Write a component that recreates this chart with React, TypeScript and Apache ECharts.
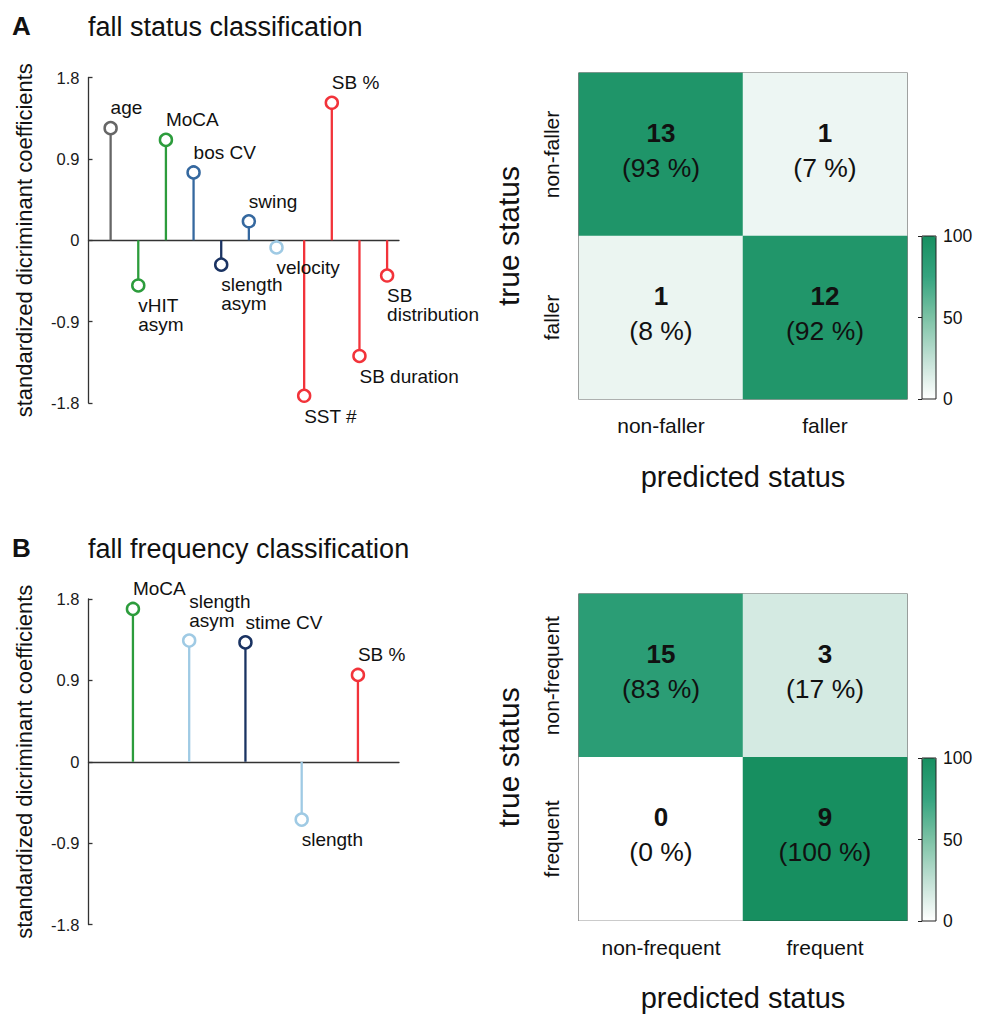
import React, { useEffect, useRef } from "react";
import * as echarts from "echarts";

// ---------- data ----------
const stemNamesA = ["age", "vHIT\nasym", "MoCA", "bos CV", "slength\nasym", "swing", "velocity", "SST #", "SB %", "SB duration", "SB\ndistribution"];
const stemValuesA = [1.24, -0.5, 1.11, 0.75, -0.27, 0.21, -0.08, -1.72, 1.52, -1.28, -0.39];
const stemGroupsA = ["gray", "green", "green", "blue", "navy", "blue", "light", "red", "red", "red", "red"];

const stemNamesB = ["MoCA", "slength\nasym", "stime CV", "slength", "SB %"];
const stemValuesB = [1.69, 1.34, 1.32, -0.64, 0.96];
const stemGroupsB = ["green", "light", "navy", "light", "red"];

const yTicks = [-1.8, -0.9, 0, 0.9, 1.8];

const classesA = ["non-faller", "faller"];
const countsA = [
  [13, 1],
  [1, 12],
];
const classesB = ["non-frequent", "frequent"];
const countsB = [
  [15, 3],
  [0, 9],
];
const colorbarTicks = [0, 50, 100];

const titleA = "fall status classification";
const titleB = "fall frequency classification";
const yNameStem = "standardized dicriminant coefficients";
const xNameHeat = "predicted status";
const yNameHeat = "true status";

// ---------- styles ----------
const groupColor: Record<string, string> = {
  gray: "#666666",
  green: "#2c9c3c",
  blue: "#35689f",
  navy: "#1a3362",
  light: "#9fcae4",
  red: "#f2333a",
};
const FONT = "'Liberation Sans', Arial, Helvetica, sans-serif";
const heatColors = ["#ffffff", "#c0e0d4", "#7cc2a5", "#35a47f", "#178f60"];

function heatData(counts: number[][]) {
  const out: any[] = [];
  counts.forEach((row, r) => {
    const total = row.reduce((a, b) => a + b, 0);
    row.forEach((c, col) => {
      const pct = Math.round((c / total) * 100);
      out.push([col, r, pct, c]);
    });
  });
  return out;
}

function stemSeries(values: number[], names: string[], groups: string[], axisIdx: number) {
  const pts = values.map((v, i) => [i + 1, v]);
  return [
    {
      type: "custom",
      xAxisIndex: axisIdx,
      yAxisIndex: axisIdx,
      data: pts,
      z: 2,
      renderItem: (params: any, api: any) => {
        const x = api.value(0);
        const v = api.value(1);
        const p0 = api.coord([x, 0]);
        const p1 = api.coord([x, v]);
        return {
          type: "line",
          shape: { x1: p0[0], y1: p0[1], x2: p1[0], y2: p1[1] },
          style: { stroke: groupColor[groups[params.dataIndex]], lineWidth: 2.3 },
        };
      },
    },
    {
      type: "scatter",
      xAxisIndex: axisIdx,
      yAxisIndex: axisIdx,
      z: 3,
      symbol: "circle",
      symbolSize: 12,
      itemStyle: { opacity: 1 },
      emphasis: { disabled: true },
      data: pts.map((p, i) => ({
        value: p,
        name: names[i],
        itemStyle: { color: "#ffffff", borderColor: groupColor[groups[i]], borderWidth: 2.5, opacity: 1 },
        label: {
          show: true,
          position: p[1] >= 0 ? "top" : "bottom",
          align: "left",
          distance: 3.5,
          formatter: names[i],
          fontSize: 19,
          lineHeight: 19,
          color: "#111",
          fontFamily: FONT,
        },
      })),
    },
  ];
}

function stemAxes(gridIndex: number, min: number, max: number) {
  return {
    x: {
      type: "value",
      gridIndex,
      min,
      max,
      axisLine: { show: true, onZero: true, lineStyle: { color: "#333", width: 1.3 } },
      axisTick: { show: false },
      axisLabel: { show: false },
      splitLine: { show: false },
    },
    y: {
      type: "value",
      gridIndex,
      min: yTicks[0],
      max: yTicks[yTicks.length - 1],
      interval: yTicks[1] - yTicks[0],
      name: yNameStem,
      nameLocation: "middle",
      nameGap: 53,
      nameTextStyle: { fontSize: 22, color: "#111", fontFamily: FONT },
      axisLine: { show: true, lineStyle: { color: "#333", width: 1.3 } },
      axisTick: { show: true, inside: true, length: 4, lineStyle: { color: "#333", width: 1.3 } },
      axisLabel: { fontSize: 16.5, color: "#1a1a1a", margin: 9, fontFamily: FONT },
      splitLine: { show: false },
    },
  };
}

function heatAxes(gridIndex: number, classes: string[]) {
  return {
    x: {
      type: "category",
      gridIndex,
      data: classes,
      name: xNameHeat,
      nameLocation: "middle",
      nameGap: 63,
      nameTextStyle: { fontSize: 29, color: "#111", fontFamily: FONT },
      axisLine: { show: false },
      axisTick: { show: false },
      axisLabel: { fontSize: 21, color: "#111", margin: 16, fontFamily: FONT },
      splitLine: { show: false },
    },
    y: {
      type: "category",
      gridIndex,
      data: classes,
      inverse: true,
      name: yNameHeat,
      nameLocation: "middle",
      nameGap: 56,
      nameTextStyle: { fontSize: 30, color: "#111", fontFamily: FONT },
      axisLine: { show: false },
      axisTick: { show: false },
      axisLabel: { rotate: 90, fontSize: 21, color: "#111", margin: 17, fontFamily: FONT },
      splitLine: { show: false },
    },
  };
}

function cbarAxes(gridIndex: number) {
  return {
    x: { type: "value", gridIndex, show: false, min: 0, max: 1 },
    y: {
      type: "value",
      gridIndex,
      position: "right",
      min: colorbarTicks[0],
      max: colorbarTicks[colorbarTicks.length - 1],
      interval: colorbarTicks[1] - colorbarTicks[0],
      z: 6,
      axisLine: { show: false },
      axisTick: { show: true, inside: true, length: 4, lineStyle: { color: "#222", width: 1 } },
      axisLabel: { fontSize: 17.5, color: "#111", margin: 7, fontFamily: FONT },
      splitLine: { show: false },
    },
  };
}

function heatSeries(counts: number[][], axisIdx: number) {
  return {
    type: "heatmap",
    xAxisIndex: axisIdx,
    yAxisIndex: axisIdx,
    data: heatData(counts),
    label: {
      show: true,
      offset: [0, -4],
      formatter: (p: any) => `{n|${p.data[3]}}\n{p|(${p.data[2]} %)}`,
      rich: {
        n: { fontSize: 26, fontWeight: "bold", lineHeight: 35, color: "#111", fontFamily: FONT },
        p: { fontSize: 26.5, lineHeight: 35, color: "#111", fontFamily: FONT },
      },
    },
    itemStyle: { borderWidth: 0 },
    emphasis: { disabled: true },
  };
}

export default function App() {
  const ref = useRef<HTMLDivElement>(null);
  useEffect(() => {
    if (!ref.current) return;
    const chart = echarts.init(ref.current, undefined, { renderer: "svg" });
    const sA = stemAxes(0, 0.2, 11.43);
    const hA = heatAxes(1, classesA);
    const cA = cbarAxes(2);
    const sB = stemAxes(3, 0.21, 5.73);
    const hB = heatAxes(4, classesB);
    const cB = cbarAxes(5);
    const gridBorder = { show: true, borderColor: "#333", borderWidth: 1.2, backgroundColor: "transparent" };
    const titleBold = { fontSize: 26, fontWeight: "bold", color: "#111", fontFamily: FONT };
    const titleNorm = { fontSize: 27, fontWeight: "normal", color: "#111", fontFamily: FONT };
    const option: any = {
      animation: false,
      backgroundColor: "#ffffff",
      textStyle: { fontFamily: FONT },
      title: [
        { text: "A", left: 12, top: 13, padding: 0, textStyle: titleBold },
        { text: titleA, left: 88, top: 13, padding: 0, textStyle: titleNorm },
        { text: "B", left: 12, top: 535, padding: 0, textStyle: titleBold },
        { text: titleB, left: 88, top: 535, padding: 0, textStyle: titleNorm },
      ],
      grid: [
        { left: 88.5, top: 77.5, width: 310.5, height: 325.5 },
        { left: 579, top: 73, width: 328, height: 326, ...gridBorder },
        { left: 922, top: 236, width: 14, height: 163, ...gridBorder, borderColor: "#222", borderWidth: 1, z: 5 },
        { left: 88.5, top: 599, width: 310.5, height: 325.5 },
        { left: 579, top: 594, width: 328, height: 326.5, ...gridBorder },
        { left: 922, top: 758, width: 14, height: 163, ...gridBorder, borderColor: "#222", borderWidth: 1, z: 5 },
      ],
      xAxis: [sA.x, hA.x, cA.x, sB.x, hB.x, cB.x],
      yAxis: [sA.y, hA.y, cA.y, sB.y, hB.y, cB.y],
      visualMap: [
        {
          type: "continuous",
          seriesIndex: 2,
          dimension: 2,
          min: 0,
          max: 100,
          calculable: false,
          left: 922,
          top: 236,
          itemWidth: 14,
          itemHeight: 163,
          padding: 0,
          text: null,
          showLabel: false,
          inRange: { color: heatColors },
        },
        {
          type: "continuous",
          seriesIndex: 5,
          dimension: 2,
          min: 0,
          max: 100,
          calculable: false,
          left: 922,
          top: 758,
          itemWidth: 14,
          itemHeight: 163,
          padding: 0,
          text: null,
          showLabel: false,
          inRange: { color: heatColors },
        },
      ],
      series: [
        ...stemSeries(stemValuesA, stemNamesA, stemGroupsA, 0),
        heatSeries(countsA, 1),
        ...stemSeries(stemValuesB, stemNamesB, stemGroupsB, 3),
        heatSeries(countsB, 4),
      ],
    };
    chart.setOption(option);
    return () => chart.dispose();
  }, []);
  return <div ref={ref} style={{ position: "absolute", left: 0, top: 0, width: 988, height: 1014 }} />;
}
